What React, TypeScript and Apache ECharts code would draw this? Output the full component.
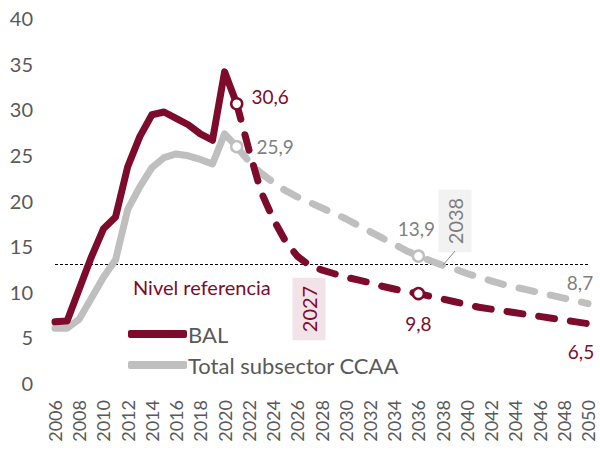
import React, { useEffect, useRef } from "react";
import * as echarts from "echarts";

const years: string[] = [];
for (let y = 2006; y <= 2050; y++) years.push(String(y));

const balHist = [6.7, 6.8, 10.3, 13.8, 16.9, 18.2, 23.7, 27.0, 29.4, 29.7, 29.0, 28.3, 27.3, 26.6, 34.1, 30.6];
const ccaaHist = [6.0, 6.0, 7.0, 9.3, 11.6, 13.5, 19.0, 21.5, 23.6, 24.7, 25.1, 24.9, 24.5, 24.0, 27.3, 25.9];

// 2021 .. 2050
const balProj = [30.6, 25.6, 21.0, 18.0, 15.6, 13.9, 12.9, 12.4, 12.0, 11.6, 11.3, 11.0, 10.6, 10.3, 10.0, 9.8, 9.5, 9.2, 8.9, 8.6, 8.3, 8.1, 7.9, 7.7, 7.5, 7.3, 7.1, 6.9, 6.7, 6.5];
const ccaaProj = [25.9, 24.3, 23.0, 22.0, 21.1, 20.4, 19.8, 19.2, 18.6, 18.0, 17.3, 16.6, 15.9, 15.2, 14.5, 13.9, 13.4, 12.9, 12.5, 12.0, 11.6, 11.2, 10.8, 10.5, 10.2, 9.9, 9.6, 9.3, 9.0, 8.7];

const referenceLevel = 13;

const RED = "#7D0B2C";
const GRAY = "#BFBFBF";
const TXT = "#595959";
const GRAYTXT = "#7F7F7F";
const FONT = "Lato, 'Open Sans', sans-serif";

const fmt = (v: number) => v.toFixed(1).replace(".", ",");

function padHist(arr: number[]) {
  return years.map((_, i) => (i < arr.length ? arr[i] : null));
}
function padProj(arr: number[]) {
  const start = years.indexOf("2021");
  return years.map((_, i) => (i >= start ? arr[i - start] : null));
}

export default function App() {
  const ref = useRef<HTMLDivElement>(null);
  useEffect(() => {
    document.body.style.margin = "0";
    const chart = echarts.init(ref.current!, null, { renderer: "svg" });
    const projStart = years.indexOf("2021");
    const i36 = years.indexOf("2036") - projStart;
    const iEnd = balProj.length - 1;

    const markerLabel = (pos: any, color: string, extra: any = {}) => ({
      show: true,
      position: pos,
      color,
      fontSize: 19,
      fontFamily: FONT,
      formatter: (p: any) => fmt(p.value[1]),
      ...extra,
    });

    chart.setOption({
      animation: false,
      textStyle: { fontFamily: FONT },
      grid: { left: 55, right: 12, top: 18, bottom: 76 },
      legend: {
        orient: "vertical",
        left: 123,
        top: 318,
        itemWidth: 59,
        itemHeight: 8,
        itemGap: 9,
        icon: "roundRect",
        data: ["BAL", "Total subsector CCAA"],
        textStyle: { color: TXT, fontSize: 22, fontFamily: FONT, padding: [0, 0, 0, -4] },
      },
      xAxis: {
        type: "category",
        data: years,
        boundaryGap: false,
        axisLine: { show: false },
        axisTick: { show: false },
        axisLabel: { interval: 1, rotate: 90, fontSize: 18, color: TXT, margin: 17, fontFamily: FONT },
      },
      yAxis: {
        type: "value",
        min: 0,
        max: 40,
        interval: 5,
        axisLine: { show: false },
        axisTick: { show: false },
        splitLine: { show: false },
        axisLabel: { fontSize: 20, color: TXT, margin: 22, fontFamily: FONT },
      },
      series: [
        {
          name: "Total subsector CCAA",
          type: "line",
          data: padHist(ccaaHist),
          symbol: "none",
          color: GRAY,
          lineStyle: { width: 7, color: GRAY, join: "round", cap: "round" },
          z: 2,
        },
        {
          name: "Total subsector CCAA proj",
          type: "line",
          data: padProj(ccaaProj),
          symbol: "none",
          color: GRAY,
          lineStyle: { width: 7, color: GRAY, type: [16, 16], cap: "round" },
          z: 2,
        },
        {
          name: "BAL",
          type: "line",
          data: padHist(balHist),
          symbol: "none",
          color: RED,
          lineStyle: { width: 7, color: RED, join: "round", cap: "round" },
          z: 3,
          markLine: {
            silent: true,
            symbol: "none",
            label: { show: false },
            lineStyle: { color: "#000", width: 1, type: [3, 2] },
            data: [{ yAxis: referenceLevel }],
            z: 1,
          },
        },
        {
          name: "BAL proj",
          type: "line",
          data: padProj(balProj),
          symbol: "none",
          color: RED,
          lineStyle: { width: 7, color: RED, type: [16, 16], cap: "round" },
          z: 3,
        },
        {
          name: "markers",
          type: "scatter",
          z: 5,
          symbol: "circle",
          symbolSize: 11,
          itemStyle: { opacity: 1 },
          data: [
            {
              value: ["2021", balProj[0]],
              itemStyle: { color: "#fff", borderColor: RED, borderWidth: 2.5, opacity: 1 },
              label: markerLabel("right", RED, { offset: [3, -7] }),
            },
            {
              value: ["2021", ccaaProj[0]],
              itemStyle: { color: "#fff", borderColor: GRAY, borderWidth: 2.5, opacity: 1 },
              label: markerLabel("right", GRAYTXT, { offset: [8, 0] }),
            },
            {
              value: ["2036", ccaaProj[i36]],
              itemStyle: { color: "#fff", borderColor: GRAY, borderWidth: 2.5, opacity: 1 },
              label: markerLabel("top", GRAYTXT, { offset: [-2, -6] }),
            },
            {
              value: ["2036", balProj[i36]],
              itemStyle: { color: "#fff", borderColor: RED, borderWidth: 2.5, opacity: 1 },
              label: markerLabel("bottom", RED, { offset: [0, 9] }),
            },
            {
              value: ["2050", ccaaProj[iEnd]],
              symbolSize: 1,
              itemStyle: { color: "transparent" },
              label: markerLabel("top", GRAYTXT, { offset: [-8, -6] }),
            },
            {
              value: ["2050", balProj[iEnd]],
              symbolSize: 1,
              itemStyle: { color: "transparent" },
              label: markerLabel("bottom", RED, { offset: [-7, 13] }),
            },
          ],
        },
      ],
      graphic: [
        {
          type: "text",
          left: 133,
          top: 277,
          style: { text: "Nivel referencia", fill: RED, fontSize: 20, fontFamily: FONT },
        },
        {
          type: "text",
          x: 309,
          y: 309,
          rotation: Math.PI / 2,
          style: {
            text: "2027",
            fill: RED,
            fontSize: 20,
            fontFamily: FONT,
            align: "center",
            verticalAlign: "middle",
            backgroundColor: "#F2E3E8",
            padding: [7, 8, 6, 8],
          },
        },
        {
          type: "line",
          shape: { x1: 455, y1: 251, x2: 443, y2: 265 },
          style: { stroke: "#8C8C8C", lineWidth: 1 },
          z: 10,
        },
        {
          type: "text",
          x: 455,
          y: 221,
          rotation: Math.PI / 2,
          style: {
            text: "2038",
            fill: GRAYTXT,
            fontSize: 20,
            fontFamily: FONT,
            align: "center",
            verticalAlign: "middle",
            backgroundColor: "#F2F2F2",
            padding: [7, 8, 6, 8],
          },
        },
      ],
    });
    return () => chart.dispose();
  }, []);
  return <div ref={ref} style={{ width: 600, height: 459 }} />;
}
